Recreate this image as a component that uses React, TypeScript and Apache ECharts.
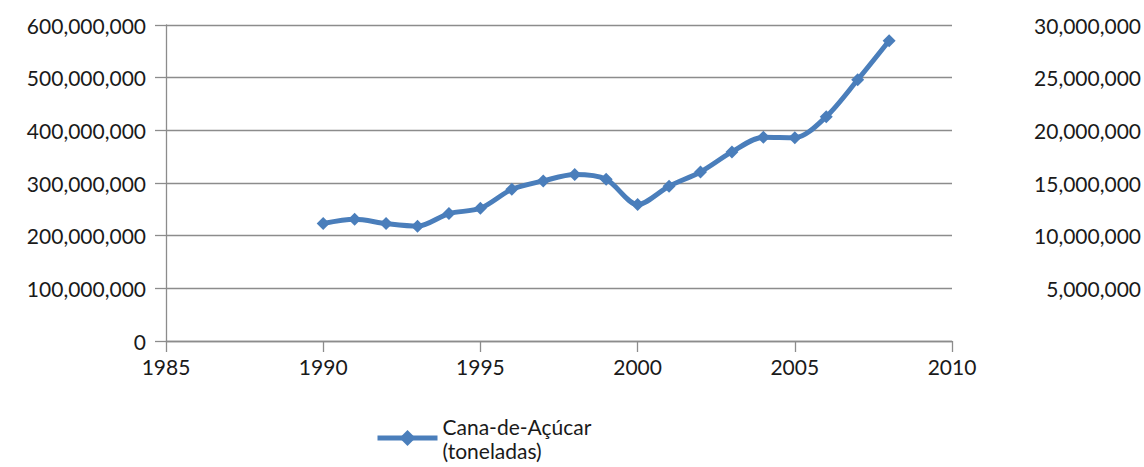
import React, { useEffect, useRef } from "react";
import * as echarts from "echarts";

const years = [1990, 1991, 1992, 1993, 1994, 1995, 1996, 1997, 1998, 1999, 2000, 2001, 2002, 2003, 2004, 2005, 2006, 2007, 2008];
const canaValues = [
  223000000, 231000000, 223000000, 218000000, 242000000, 252000000, 288000000, 304000000, 316000000, 307000000,
  259000000, 294000000, 321000000, 359000000, 387000000, 386000000, 426000000, 496000000, 570000000,
];
const seriesName = "Cana-de-Açúcar\n(toneladas)";
const xRange = { min: 1985, max: 2010, interval: 5 };
const leftRange = { min: 0, max: 600000000, interval: 100000000 };
const rightRange = { min: 0, max: 30000000, interval: 5000000 };

const fmt = (v: number) => v.toLocaleString("en-US");

export default function App() {
  const ref = useRef<HTMLDivElement>(null);
  useEffect(() => {
    if (!ref.current) return;
    const chart = echarts.init(ref.current, null, { renderer: "svg" });
    const font = "Lato, 'Open Sans', sans-serif";
    const grey = "#8c8c8c";
    const fs = 21;
    chart.setOption({
      animation: false,
      textStyle: { fontFamily: font },
      grid: { left: 166, right: 192, top: 25, bottom: 126, outerBoundsMode: "none", containLabel: false },
      legend: {
        left: 370,
        top: 409,
        itemWidth: 60,
        itemHeight: 20,
        textStyle: { fontSize: fs, color: "#1a1a1a", fontFamily: font, lineHeight: 24 },
        lineStyle: { width: 5 },
        data: [seriesName],
      },
      xAxis: {
        type: "value",
        ...xRange,
        axisLine: { show: true, lineStyle: { color: grey, width: 1.3 } },
        axisTick: { show: true, length: 11, lineStyle: { color: grey, width: 1.3 } },
        splitLine: { show: false },
        axisLabel: { fontSize: fs, color: "#1a1a1a", fontFamily: font, margin: 15, formatter: (v: number) => String(v) },
      },
      yAxis: [
        {
          type: "value",
          ...leftRange,
          axisLine: { show: true, lineStyle: { color: grey, width: 1.3 } },
          axisTick: { show: true, length: 11, lineStyle: { color: grey, width: 1.3 } },
          splitLine: { show: true, lineStyle: { color: grey, width: 1.3 } },
          axisLabel: { fontSize: fs, color: "#1a1a1a", fontFamily: font, margin: 20, formatter: fmt },
        },
        {
          type: "value",
          position: "right",
          ...rightRange,
          axisLine: { show: false },
          axisTick: { show: false },
          splitLine: { show: false },
          axisLabel: {
            fontSize: fs,
            color: "#1a1a1a",
            fontFamily: font,
            margin: 189,
            align: "right",
            showMinLabel: false,
            formatter: fmt,
          },
        },
      ],
      series: [
        {
          name: seriesName,
          type: "line",
          yAxisIndex: 0,
          data: years.map((y, i) => [y, canaValues[i]]),
          smooth: 0.3,
          symbol: "diamond",
          symbolSize: 13,
          lineStyle: { color: "#4a7ebb", width: 5 },
          itemStyle: { color: "#4a7ebb" },
        },
      ],
    });
    return () => chart.dispose();
  }, []);
  return <div ref={ref} style={{ position: "absolute", left: 0, top: 0, width: 1144, height: 467 }} />;
}
